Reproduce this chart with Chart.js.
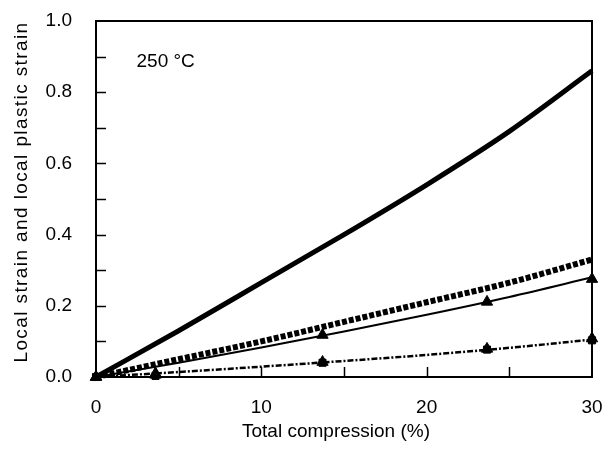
<!DOCTYPE html>
<html><head><meta charset="utf-8">
<script src="https://cdn.jsdelivr.net/npm/chart.js@4"></script>
<style>html,body{margin:0;padding:0;background:#fff}canvas{display:block}</style>
</head><body>
<canvas id="c" width="603" height="449"></canvas>
<script>
// Data
const curveX = [0, 5, 10, 15, 20, 25, 30];
const totalLocalStrain = [0, 0.13, 0.265, 0.40, 0.54, 0.69, 0.86];   // thick solid
const fineLocalStrain  = [0, 0.05, 0.10, 0.155, 0.21, 0.265, 0.33];  // thick dashed
const upperThinLine    = [0, 0.04, 0.083, 0.128, 0.175, 0.225, 0.28];// thin solid
const lowerDashDot     = [0, 0.014, 0.029, 0.045, 0.062, 0.082, 0.105];// dash-dot
const markX = [0, 3.6, 13.7, 23.65, 30];
const triUpper = [0, 0.01, 0.118, 0.211, 0.275];
const sqLower  = [0, 0.003, 0.04, 0.077, 0.103];
const triLower = [0, 0.006, 0.042, 0.079, 0.108];
const xTicksLabelled = [0, 10, 20, 30];
const yTicksLabelled = [0, 0.2, 0.4, 0.6, 0.8, 1.0];
const annotation = "250 °C";
const xTitle = "Total compression (%)";
const yTitle = "Local strain and local plastic strain";

const pts = (xs, ys) => xs.map((x, i) => ({x, y: ys[i]}));
const FONT = "'Liberation Sans', Arial, sans-serif";

const frameTicks = {
  id: 'frameTicks',
  afterDatasetsDraw(chart) {
    const {ctx, chartArea: a, scales: {x, y}} = chart;
    ctx.save();
    ctx.strokeStyle = '#000';
    ctx.lineWidth = 2;
    ctx.strokeRect(a.left, a.top, a.right - a.left, a.bottom - a.top);
    ctx.lineWidth = 1.5;
    x.ticks.forEach(t => {
      if (t.value <= 0 || t.value >= 30) return;
      const px = Math.round(x.getPixelForValue(t.value)) + 0.5;
      ctx.beginPath(); ctx.moveTo(px, a.bottom); ctx.lineTo(px, a.bottom - 10); ctx.stroke();
    });
    y.ticks.forEach(t => {
      if (t.value <= 0 || t.value >= 1) return;
      const py = Math.round(y.getPixelForValue(t.value)) + 0.5;
      ctx.beginPath(); ctx.moveTo(a.left, py); ctx.lineTo(a.left + 10, py); ctx.stroke();
    });
    ctx.fillStyle = '#000';
    ctx.font = '19px ' + FONT;
    ctx.textBaseline = 'middle';
    ctx.fillText(annotation, x.getPixelForValue(2.45), y.getPixelForValue(0.885));
    // x-axis title
    ctx.textAlign = 'center';
    ctx.fillText(xTitle, (a.left + a.right) / 2 - 8, a.bottom + 55);
    // rotated y-axis title
    ctx.translate(22, (a.top + a.bottom) / 2 - 7);
    ctx.rotate(-Math.PI / 2);
    if ('letterSpacing' in ctx) ctx.letterSpacing = '1.4px';
    ctx.fillText(yTitle, 0, 0);
    ctx.restore();
  }
};

new Chart(document.getElementById('c'), {
  type: 'scatter',
  data: {
    datasets: [
      {data: pts(curveX, totalLocalStrain), showLine: true, borderColor: '#000', borderWidth: 5, pointRadius: 0, cubicInterpolationMode: 'monotone'},
      {data: pts(curveX, fineLocalStrain), showLine: true, borderColor: '#000', borderWidth: 6, borderDash: [5, 2], pointRadius: 0, cubicInterpolationMode: 'monotone'},
      {data: pts(curveX, upperThinLine), showLine: true, borderColor: '#000', borderWidth: 2, pointRadius: 0, cubicInterpolationMode: 'monotone'},
      {data: pts(curveX, lowerDashDot), showLine: true, borderColor: '#000', borderWidth: 2.5, borderDash: [6, 2, 2, 2], pointRadius: 0, cubicInterpolationMode: 'monotone'},
      {data: pts(markX, triUpper), showLine: false, pointStyle: 'triangle', pointRadius: 6.5, backgroundColor: '#000', borderColor: '#000'},
      {data: pts(markX, sqLower), showLine: false, pointStyle: 'rect', pointRadius: 5, backgroundColor: '#000', borderColor: '#000'},
      {data: pts(markX, triLower), showLine: false, pointStyle: 'triangle', pointRadius: 6.5, backgroundColor: '#000', borderColor: '#000'}
    ]
  },
  options: {
    responsive: false,
    animation: false,
    events: [],
    clip: false,
    layout: {padding: {left: 0, right: 11, top: 21, bottom: 0}},
    plugins: {legend: {display: false}, tooltip: {enabled: false}},
    scales: {
      x: {
        type: 'linear', min: 0, max: 30,
        grid: {display: false},
        border: {display: false},
        afterFit: s => { s.height = 72; s.paddingLeft = 0; s.paddingRight = 0; },
        ticks: {stepSize: 5, color: '#000', font: {size: 19, family: FONT}, padding: 11,
          maxRotation: 0,
          callback: v => xTicksLabelled.includes(v) ? String(v) : ''},
        title: {display: false}
      },
      y: {
        type: 'linear', min: 0, max: 1.0,
        grid: {display: false},
        border: {display: false},
        afterFit: s => { s.width = 96; s.paddingTop = 0; s.paddingBottom = 0; },
        ticks: {stepSize: 0.1, color: '#000', font: {size: 19, family: FONT}, padding: 16,
          callback: v => yTicksLabelled.some(t => Math.abs(t - v) < 1e-6) ? v.toFixed(1) : ''},
        title: {display: false}
      }
    }
  },
  plugins: [frameTicks]
});
</script>
</body></html>
